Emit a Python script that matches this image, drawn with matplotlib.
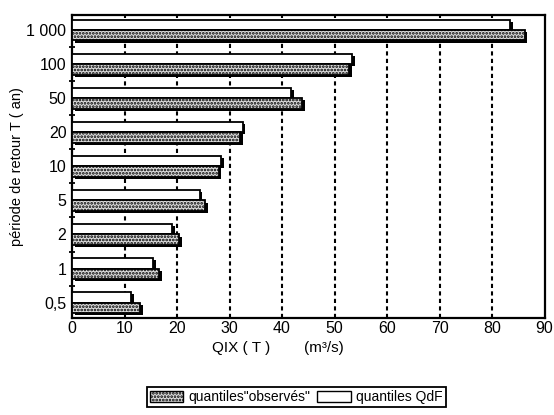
import numpy as np
import matplotlib
matplotlib.use("Agg")
import matplotlib.pyplot as plt
import matplotlib.patheffects as pe
from matplotlib.patches import Patch

plt.rcParams['font.family'] = ['Liberation Sans', 'DejaVu Sans']
plt.rcParams['hatch.linewidth'] = 1.3

# --- data ---
periods = ['1 000', '100', '50', '20', '10', '5', '2', '1', '0,5']
qdf = [83.5, 53.3, 41.8, 32.5, 28.4, 24.3, 19.0, 15.4, 11.3]
observed = [86.2, 52.8, 43.8, 32.0, 27.9, 25.3, 20.4, 16.6, 13.0]

# --- figure ---
fig = plt.figure(figsize=(5.54, 4.15), dpi=100)
ax = fig.add_axes([0.13, 0.234, 0.853, 0.73])

pos = np.arange(len(periods))
h = 0.3
shadow = [pe.SimplePatchShadow(offset=(2, -1.5), shadow_rgbFace='black', alpha=1), pe.Normal()]

ax.barh(pos - h / 2, qdf, height=h, color='white', edgecolor='black', linewidth=1.3,
        zorder=3, path_effects=shadow)
ax.barh(pos + h / 2, observed, height=h, color='#dcdcdc', edgecolor='black', linewidth=1.3,
        hatch='.....', zorder=4, path_effects=shadow)

# dashed vertical grid
for v in range(10, 90, 10):
    ax.axvline(v, color='black', linestyle=(0, (2, 1.6)), linewidth=1.5, zorder=1)

ax.set_xlim(0, 90)
ax.set_ylim(len(periods) - 0.55, -0.45)
ax.set_xticks(range(0, 91, 10))
ax.set_yticks(pos)
ax.set_yticklabels(periods)
ax.set_yticks(pos[:-1] + 0.5, minor=True)
ax.tick_params(axis='y', which='major', length=0, labelsize=11.5, pad=4)
ax.tick_params(axis='y', which='minor', length=5, width=1.3, direction='inout')
ax.tick_params(axis='x', length=3, width=1.2, direction='in', labelsize=11.5, pad=2)
for s in ax.spines.values():
    s.set_linewidth(1.6)

ax.set_ylabel('période de retour T ( an)', fontsize=10.5, labelpad=2)
fig.text(0.435, 0.152, 'QIX ( T )', fontsize=11, ha='center')
fig.text(0.585, 0.152, '(m³/s)', fontsize=11, ha='center')

handles = [Patch(facecolor='#dcdcdc', edgecolor='black', hatch='.....'),
           Patch(facecolor='white', edgecolor='black')]
leg = fig.legend(handles, ['quantiles"observés"', 'quantiles QdF'], ncol=2,
                 loc='center', bbox_to_anchor=(0.535, 0.043), fontsize=10,
                 fancybox=False, edgecolor='black', framealpha=1,
                 borderpad=0.2, handlelength=2.4, handleheight=0.8,
                 columnspacing=0.5, handletextpad=0.4, borderaxespad=0)
leg.get_frame().set_linewidth(1.3)

fig.savefig('out.png', dpi=100)
